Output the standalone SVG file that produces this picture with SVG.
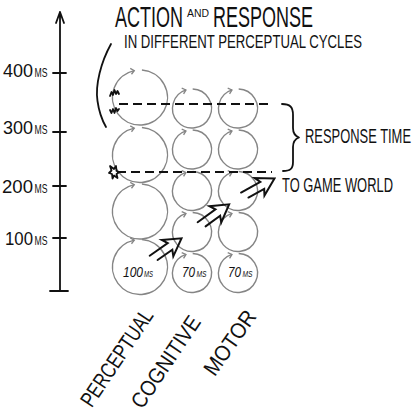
<svg xmlns="http://www.w3.org/2000/svg" width="414" height="409" viewBox="0 0 414 409">
<style>
text{font-family:"Liberation Sans","DejaVu Sans",sans-serif;fill:#111}
.cyc{fill:none;stroke:#858585;stroke-width:1.4}
.ink{fill:none;stroke:#111;stroke-width:1.8;stroke-linecap:round;stroke-linejoin:round}
.dash{fill:none;stroke:#111;stroke-width:2;stroke-dasharray:9 5}
.harrow{fill:none;stroke:#111;stroke-width:2;stroke-linejoin:miter;stroke-linecap:round}
.it{font-style:italic}
</style>
<defs>
<marker id="chev" markerUnits="userSpaceOnUse" markerWidth="10" markerHeight="10" refX="0" refY="0" viewBox="-5 -5 10 10" orient="auto" overflow="visible">
<path d="M-3.5,-3 L0,0 L-3.5,3" fill="none" stroke="#858585" stroke-width="1.3"/>
</marker>
<path id="bigc" class="cyc" d="M1.92,-27.43 A27.5,27.5 0 1 1 -5.72,-26.90" marker-end="url(#chev)"/>
<path id="smc" class="cyc" d="M0.68,-19.49 A19.5,19.5 0 1 1 -6.03,-18.55" marker-end="url(#chev)"/>
<path id="ha" class="harrow" d="M0,-4 L22,-4 L19,-10 L36,0 L19,10 L22,4 L4,4"/>
</defs>

<g id="title">
<text x="115" y="27" font-size="30" textLength="68" lengthAdjust="spacingAndGlyphs">ACTION</text>
<text x="187" y="17" font-size="10" textLength="22" lengthAdjust="spacingAndGlyphs">AND</text>
<text x="213" y="27" font-size="30" textLength="100" lengthAdjust="spacingAndGlyphs">RESPONSE</text>
<text x="124" y="48" font-size="19" textLength="238" lengthAdjust="spacingAndGlyphs">IN DIFFERENT PERCEPTUAL CYCLES</text>
</g>

<g id="axis">
<path class="ink" d="M60,12 L60,291 M56,23 L60,12 L64,23 M50,291 L68,291 M53,73 L66,73 M53,132 L66,132 M53,186 L66,186 M53,238 L66,238"/>
<text x="3" y="77" font-size="19" textLength="30" lengthAdjust="spacingAndGlyphs">400</text>
<text x="34.5" y="77" font-size="12" textLength="13" lengthAdjust="spacingAndGlyphs">MS</text>
<text x="3" y="134" font-size="19" textLength="30" lengthAdjust="spacingAndGlyphs">300</text>
<text x="34.5" y="134" font-size="12" textLength="13" lengthAdjust="spacingAndGlyphs">MS</text>
<text x="2" y="193" font-size="19" textLength="31" lengthAdjust="spacingAndGlyphs">200</text>
<text x="34.5" y="193" font-size="12" textLength="13" lengthAdjust="spacingAndGlyphs">MS</text>
<text x="5" y="245" font-size="19" textLength="28" lengthAdjust="spacingAndGlyphs">100</text>
<text x="34.5" y="245" font-size="12" textLength="13" lengthAdjust="spacingAndGlyphs">MS</text>
</g>

<g id="perceptual">
<use href="#bigc" x="140" y="97.5"/>
<use href="#bigc" x="140" y="155"/>
<use href="#bigc" x="140" y="211.5"/>
<use href="#bigc" x="140" y="267"/>
<text class="it" x="123" y="277" font-size="14" textLength="20" lengthAdjust="spacingAndGlyphs">100</text>
<text class="it" x="144" y="277" font-size="9" textLength="9" lengthAdjust="spacingAndGlyphs">MS</text>
</g>

<g id="cognitive">
<use href="#smc" x="192" y="108.5"/>
<use href="#smc" x="192" y="149.5"/>
<use href="#smc" x="192" y="191"/>
<use href="#smc" x="192" y="232"/>
<use href="#smc" x="192" y="273"/>
<text class="it" x="182" y="277" font-size="14" textLength="13" lengthAdjust="spacingAndGlyphs">70</text>
<text class="it" x="196.5" y="277" font-size="9" textLength="10" lengthAdjust="spacingAndGlyphs">MS</text>
</g>

<g id="motor">
<use href="#smc" x="238" y="108.5"/>
<use href="#smc" x="238" y="149.5"/>
<use href="#smc" x="238" y="191"/>
<use href="#smc" x="238" y="232"/>
<use href="#smc" x="238" y="273"/>
<text class="it" x="228" y="277" font-size="14" textLength="13" lengthAdjust="spacingAndGlyphs">70</text>
<text class="it" x="242.5" y="277" font-size="9" textLength="10" lengthAdjust="spacingAndGlyphs">MS</text>
</g>

<g id="events">
<path class="ink" stroke-width="1.4" d="M110,96 l1.5,-4 l1.5,3 l1.5,-5 l1.5,4 l1.5,-3 l1.5,3"/>
<path class="ink" stroke-width="1.4" d="M110,110 l1.5,3 l1.5,-4 l1.5,4 l1.5,-5 l1.5,3 l1.5,-2"/>
<path class="ink" stroke-width="1.4" d="M110,166 l4,3 l2,-3 l0.5,5 l3,1 l-3,2 l1,4 l-3.5,-2.5 l-1.5,3 l-0.5,-4.5 l-3,-1 l2.5,-2.5 z"/>
</g>

<g id="connectors">
<path class="ink" d="M111,44 C101,62 95,85 97.5,101 C99,112 102,120 106,127"/>
<path class="dash" d="M119,104 L272,104"/>
<path class="dash" d="M117,172 L272,172"/>
<path class="ink" d="M282,104 C290,104 293,107 293,115 L293,128 C293,133 295,136 299,137.5 C295,139 293,142 293,147 L293,162 C293,169 290,171 283,171"/>
<use href="#ha" transform="translate(152,259) rotate(-35)"/>
<use href="#ha" transform="translate(200,225.5) rotate(-36)"/>
<use href="#ha" transform="translate(243,196) rotate(-29)"/>
</g>

<g id="labels">
<text x="305" y="143" font-size="20" textLength="106" lengthAdjust="spacingAndGlyphs">RESPONSE TIME</text>
<text x="282" y="192" font-size="20" textLength="111" lengthAdjust="spacingAndGlyphs">TO GAME WORLD</text>
<text transform="translate(123,362) rotate(-56)" text-anchor="middle" font-size="22" textLength="112" lengthAdjust="spacingAndGlyphs">PERCEPTUAL</text>
<text transform="translate(172,366) rotate(-56)" text-anchor="middle" font-size="22" textLength="106" lengthAdjust="spacingAndGlyphs">COGNITIVE</text>
<text transform="translate(236,347) rotate(-55)" text-anchor="middle" font-size="22" textLength="74" lengthAdjust="spacingAndGlyphs">MOTOR</text>
</g>
</svg>
